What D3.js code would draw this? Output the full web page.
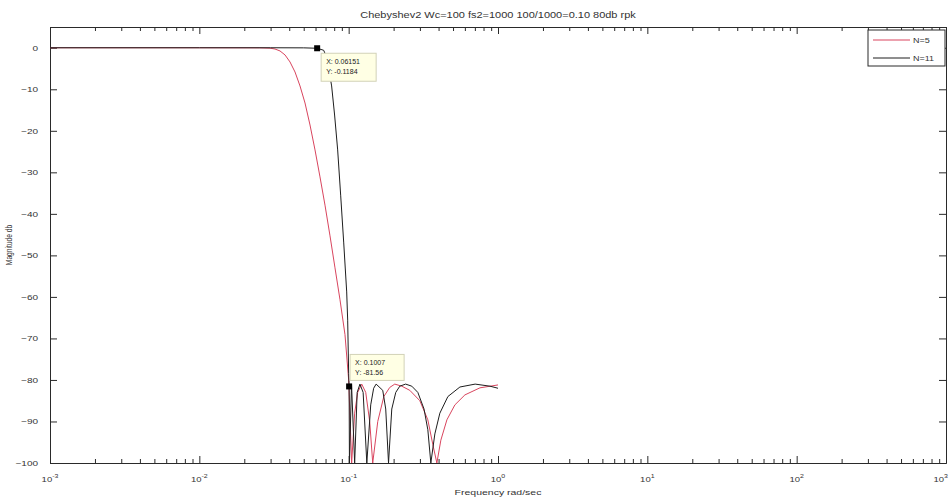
<!DOCTYPE html>
<html>
<head>
<meta charset="utf-8">
<script src="https://cdn.jsdelivr.net/npm/d3@7"></script>
<style>
  html, body { margin: 0; padding: 0; background: #ffffff; }
  svg { display: block; font-family: "Liberation Sans", Arial, sans-serif; }
</style>
</head>
<body>
<svg id="chart" width="949" height="503"></svg>
<script>
// Magnitude response of two Chebyshev type II low-pass filters (frequency in rad/sec, magnitude in dB)
const freqN5 = [0.001, 0.01, 0.0253, 0.02973, 0.03211, 0.03469, 0.03748, 0.04048, 0.04372, 0.04722,
  0.05101, 0.05510, 0.05951, 0.06427, 0.06942, 0.07499, 0.08099, 0.08750, 0.09450, 0.1,
  0.1047, 0.1097, 0.1149, 0.1223, 0.1301, 0.1383, 0.1449, 0.1566, 0.1719, 0.1884,
  0.2036, 0.2268, 0.2567, 0.2996, 0.339, 0.3663, 0.3896, 0.4143, 0.4548, 0.5145,
  0.6004, 0.757, 1.0];
const magN5 = [0, 0, -0.02, -0.1, -0.3, -0.77, -1.73, -3.42, -5.83, -9.2,
  -13.3, -18.6, -24.6, -31.1, -37.9, -45.3, -53.0, -60.7, -69.1, -80,
  -100, -88, -83, -81, -83, -90, -100, -90, -84, -81.8,
  -81, -81.5, -82.5, -85, -89.6, -95.6, -100, -94.5, -89.6, -86,
  -83.6, -81.9, -81.2];

const freqN11 = [0.001, 0.01, 0.03, 0.05, 0.06151, 0.0680, 0.0701, 0.0734, 0.0769, 0.0805,
  0.0844, 0.0884, 0.0926, 0.0970, 0.0985, 0.1, 0.1007, 0.1012, 0.1045, 0.1097,
  0.114, 0.119, 0.125, 0.1323, 0.1405, 0.147, 0.1527, 0.1691, 0.1771, 0.1849,
  0.1944, 0.2067, 0.2199, 0.2407, 0.2647, 0.2905, 0.3197, 0.339, 0.355, 0.3777,
  0.408, 0.4617, 0.5559, 0.703, 0.8838, 1.0];
const magN11 = [0, 0, 0, -0.02, -0.1184, -0.6, -1.7, -4.9, -9.2, -16.2,
  -24.6, -35.5, -46.8, -58.8, -65.6, -78.5, -81.56, -100, -81, -100,
  -83, -81, -83, -100, -86, -82, -81, -82.5, -87, -100,
  -87, -83, -81.5, -81, -81.5, -83, -87, -92, -100, -93,
  -88, -84, -81.7, -81, -81.5, -82];

const seriesNames = ["N=5", "N=11"];
const seriesColors = ["#d9455e", "#1e1e1e"];

// Data tips
const tipFreq = [0.06151, 0.1007];
const tipMag = [-0.1184, -81.56];
const tipFreqText = ["0.06151", "0.1007"];
const tipMagText = ["-0.1184", "-81.56"];

const xTickValues = [1e-3, 1e-2, 1e-1, 1e0, 1e1, 1e2, 1e3];
const xTickExponents = ["-3", "-2", "-1", "0", "1", "2", "3"];
const yTickValues = [0, -10, -20, -30, -40, -50, -60, -70, -80, -90, -100];

const titleText = "Chebyshev2 Wc=100 fs2=1000 100/1000=0.10 80db rpk";
const xLabelText = "Frequency rad/sec";
const yLabelText = "Magnitude db";

const plot = { left: 50, right: 946, top: 27, bottom: 463 };
const squash = 0.74;   // glyphs are rendered a little flatter than wide

const svg = d3.select("#chart");

const x = d3.scaleLog().domain([1e-3, 1e3]).range([plot.left, plot.right]);
const y = d3.scaleLinear().domain([-100, 5]).range([plot.bottom, plot.top]);

// minor ticks at 2..9 within each decade
const minorTicks = [];
for (let e = -3; e < 3; e++) {
  for (let k = 2; k <= 9; k++) minorTicks.push(k * Math.pow(10, e));
}

const axisColor = "#2a2a2a";
const textColor = "#333";

function addText(parent, tx, ty, str, size, anchor, rotate) {
  const g = parent.append("g")
    .attr("transform", `translate(${tx},${ty}) scale(1,${squash})` + (rotate ? ` rotate(${rotate})` : ""));
  return g.append("text")
    .attr("x", 0).attr("y", 0)
    .attr("text-anchor", anchor || "start")
    .attr("fill", textColor)
    .style("font-size", size + "px")
    .text(str);
}

// plot area
svg.append("rect")
  .attr("x", plot.left).attr("y", plot.top)
  .attr("width", plot.right - plot.left).attr("height", plot.bottom - plot.top)
  .attr("fill", "#ffffff");

svg.append("clipPath").attr("id", "clip")
  .append("rect")
  .attr("x", plot.left).attr("y", plot.top)
  .attr("width", plot.right - plot.left).attr("height", plot.bottom - plot.top);

function styleAxis(g) {
  g.selectAll("path.domain").attr("stroke", axisColor).attr("stroke-width", 1);
  g.selectAll(".tick line").attr("stroke", axisColor).attr("stroke-width", 1);
}

// bottom and top axes: major + minor ticks, pointing inward
const gBottomMinor = svg.append("g").attr("transform", `translate(0,${plot.bottom})`)
  .call(d3.axisBottom(x).tickValues(minorTicks).tickSize(-4).tickSizeOuter(0).tickFormat(""));
const gBottom = svg.append("g").attr("transform", `translate(0,${plot.bottom})`)
  .call(d3.axisBottom(x).tickValues(xTickValues).tickSize(-7).tickSizeOuter(0).tickFormat(""));
const gTopMinor = svg.append("g").attr("transform", `translate(0,${plot.top})`)
  .call(d3.axisTop(x).tickValues(minorTicks).tickSize(-4).tickSizeOuter(0).tickFormat(""));
const gTop = svg.append("g").attr("transform", `translate(0,${plot.top})`)
  .call(d3.axisTop(x).tickValues(xTickValues).tickSize(-7).tickSizeOuter(0).tickFormat(""));
[gBottomMinor, gBottom, gTopMinor, gTop].forEach(styleAxis);

// left and right axes
const gLeft = svg.append("g").attr("transform", `translate(${plot.left},0)`)
  .call(d3.axisLeft(y).tickValues(yTickValues).tickSize(-7).tickSizeOuter(0).tickFormat(""));
const gRight = svg.append("g").attr("transform", `translate(${plot.right},0)`)
  .call(d3.axisRight(y).tickValues(yTickValues).tickSize(-7).tickSizeOuter(0).tickFormat(""));
[gLeft, gRight].forEach(styleAxis);

// y tick labels
const yLab = svg.append("g");
yTickValues.forEach(v => {
  addText(yLab, plot.left - 12, y(v) + 3, d3.format("d")(v), 10, "end");
});

// x tick labels as powers of ten
const xLab = svg.append("g");
xTickValues.forEach((v, i) => {
  const last = i === xTickValues.length - 1;
  const t = addText(xLab, last ? 948 : x(v), 482, null, 9.5, last ? "end" : "middle");
  t.append("tspan").text("10");
  t.append("tspan").attr("dy", -5).style("font-size", "7px").text(xTickExponents[i]);
});

// response curves
const line = d3.line()
  .x(d => x(d[0]))
  .y(d => y(d[1]));

const series = [
  { name: seriesNames[0], color: seriesColors[0], pts: d3.zip(freqN5, magN5) },
  { name: seriesNames[1], color: seriesColors[1], pts: d3.zip(freqN11, magN11) }
];

const gLines = svg.append("g").attr("clip-path", "url(#clip)");
series.forEach(s => {
  gLines.append("path")
    .datum(s.pts)
    .attr("fill", "none")
    .attr("stroke", s.color)
    .attr("stroke-width", 1)
    .attr("stroke-linejoin", "round")
    .attr("d", line);
});

// data tips
const tipBoxes = [
  { dx: 4, dy: 5, w: 55, h: 28 },
  { dx: 1, dy: -32, w: 54, h: 26 }
];
tipFreq.forEach((f, i) => {
  const px = x(f), py = y(tipMag[i]);
  const b = tipBoxes[i];
  const bx = px + b.dx, by = py + b.dy;
  svg.append("rect")
    .attr("x", bx).attr("y", by).attr("width", b.w).attr("height", b.h)
    .attr("fill", "#ffffe4").attr("stroke", "#d2d2b8").attr("stroke-width", 1);
  svg.append("text").attr("x", bx + 5).attr("y", by + 11)
    .attr("fill", "#222").style("font-size", "7px")
    .text("X: " + tipFreqText[i]);
  svg.append("text").attr("x", bx + 5).attr("y", by + 21)
    .attr("fill", "#222").style("font-size", "7px")
    .text("Y: " + tipMagText[i]);
  svg.append("rect")
    .attr("x", px - 3).attr("y", py - 3).attr("width", 6).attr("height", 6)
    .attr("fill", "#000");
});

// legend
const lg = svg.append("g").attr("transform", "translate(868,30)");
lg.append("rect").attr("x", 0).attr("y", 0).attr("width", 77).attr("height", 36)
  .attr("fill", "#ffffff").attr("stroke", axisColor).attr("stroke-width", 1);
series.forEach((s, i) => {
  const ly = 10 + i * 18;
  lg.append("line").attr("x1", 5).attr("x2", 42).attr("y1", ly).attr("y2", ly)
    .attr("stroke", s.color).attr("stroke-width", 1);
  addText(lg, 45, ly + 3, s.name, 9, "start");
});

// title and axis labels
addText(svg, (plot.left + plot.right) / 2, 18, titleText, 11, "middle");
addText(svg, (plot.left + plot.right) / 2, 495, xLabelText, 10.5, "middle");
addText(svg, 12, (plot.top + plot.bottom) / 2, yLabelText, 9, "middle", -90);
</script>
</body>
</html>
